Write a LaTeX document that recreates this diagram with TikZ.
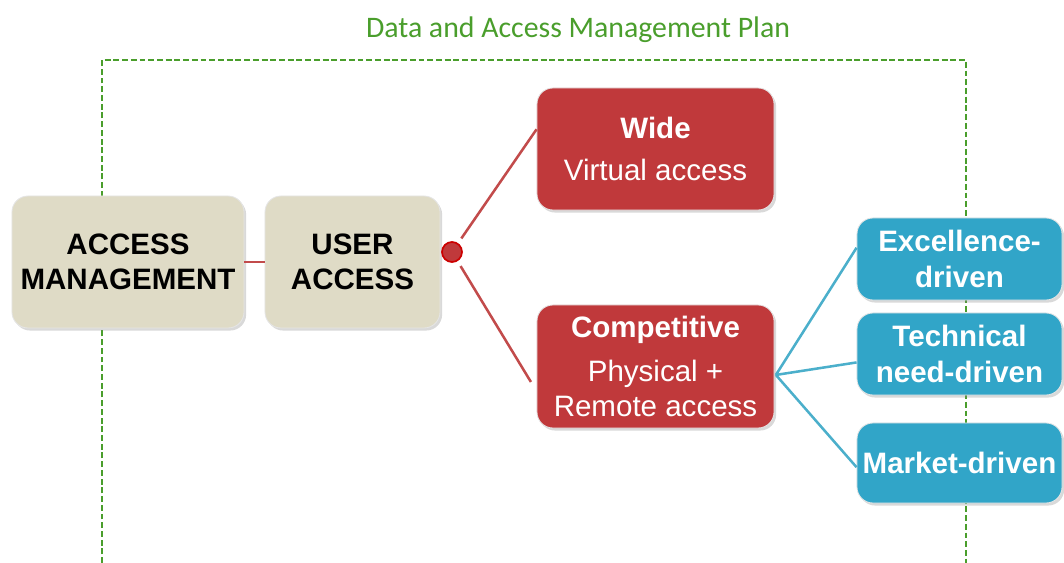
\documentclass[tikz,border=0pt]{standalone}
\usepackage{fontspec}
\setmainfont{Liberation Sans}
\newfontfamily\titlefont{Carlito}
\usepackage{xcolor}
\usetikzlibrary{shadows}

\definecolor{planGreen}{HTML}{4A9E2C}
\definecolor{boxBeige}{HTML}{DFDBC6}
\definecolor{boxRed}{HTML}{C0393B}
\definecolor{lineRed}{HTML}{C24B4B}
\definecolor{boxBlue}{HTML}{31A5C8}
\definecolor{lineBlue}{HTML}{4BAFCB}

\begin{document}
\begin{tikzpicture}[x=0.025cm, y=-0.025cm,
    box/.style={rounded corners=0.4cm, draw=gray!20, line width=0.6pt,
        drop shadow={shadow xshift=1.5pt, shadow yshift=-1.8pt, opacity=0.3},
        align=center, inner sep=0pt, text=white,
        font=\fontsize{21}{25}\selectfont},
    root/.style={box, fill=boxBeige, text=black, font=\fontsize{21}{25}\selectfont\bfseries},
    branch/.style={box, fill=boxRed},
    leaf/.style={box, fill=boxBlue, font=\fontsize{21}{25}\selectfont\bfseries,
        minimum width=5.125cm, minimum height=2.05cm},
    link/.style={line width=1.8pt}]
    \useasboundingbox (0,0) rectangle (1064,563);

    % Plan frame (open at the bottom)
    \node[planGreen, font=\titlefont\fontsize{21.2}{25}\selectfont] (plan) at (578,30) {Data and Access Management Plan};
    \draw[planGreen, line width=1.5pt, dash pattern=on 4.2pt off 2pt] (102,563) |- (966,60) -- (966,563);

    % Left boxes
    \node[root, minimum width=5.8cm, minimum height=3.3cm] (am) at (128,262) {ACCESS\\MANAGEMENT};
    \node[root, minimum width=4.375cm, minimum height=3.3cm] (ua) at (352.5,262) {USER\\ACCESS};
    \draw[lineRed, link] (am.east) -- (ua.west);

    % Hub dot
    \node[circle, fill=boxRed, draw=red!80!black, line width=1.2pt, minimum size=0.5cm, inner sep=0pt] (hub) at (452,252) {};

    % Access types
    \node[branch, minimum width=5.925cm, minimum height=3.05cm] (wide) at (655.5,149)
        {\textbf{Wide}\\[5pt] Virtual access};
    \node[branch, minimum width=5.925cm, minimum height=3.075cm] (comp) at (655.5,366.5)
        {\textbf{Competitive}\\[6pt] Physical +\\ Remote access};
    \draw[lineRed, link, shorten <=4pt] (hub) -- ([yshift=14pt]wide.west);
    \draw[lineRed, link, shorten <=4pt] (hub) -- ([xshift=-4pt, yshift=-11pt]comp.west);

    % Drivers
    \node[leaf] (exc) at (959.5,259) {Excellence-\\driven};
    \node[leaf] (tech) at (959.5,354) {Technical\\need-driven};
    \node[leaf, minimum height=2cm] (mkt) at (959.5,463) {Market-driven};
    \coordinate (fork) at ([xshift=1pt, yshift=-6pt]comp.east);
    \draw[lineBlue, link] (fork) -- ([yshift=8pt]exc.west);
    \draw[lineBlue, link] (fork) -- ([yshift=-6pt]tech.west);
    \draw[lineBlue, link] (fork) -- ([yshift=-3pt]mkt.west);
\end{tikzpicture}
\end{document}
